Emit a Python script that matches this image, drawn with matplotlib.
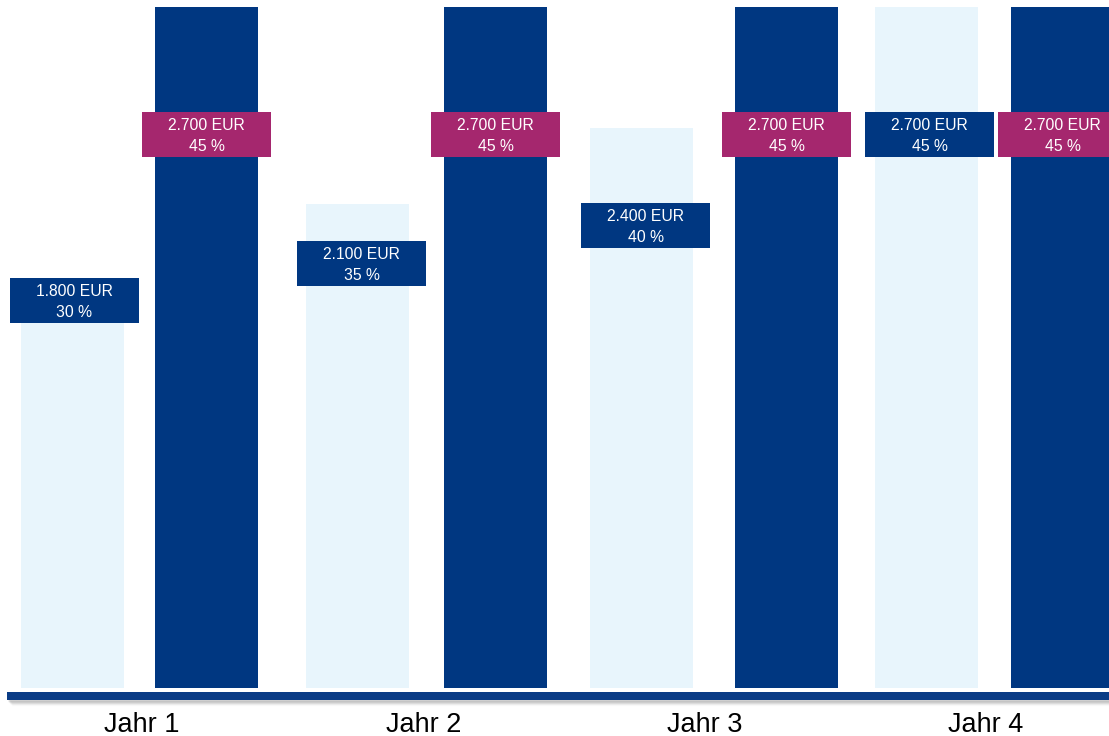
import matplotlib.pyplot as plt
from matplotlib.patches import Rectangle

# data
years = ['Jahr 1', 'Jahr 2', 'Jahr 3', 'Jahr 4']
light_heights = [1450, 1920, 2220, 2700]   # bar heights as drawn in the picture
dark_heights = [2700, 2700, 2700, 2700]
light_amounts = ['1.800 EUR', '2.100 EUR', '2.400 EUR', '2.700 EUR']
light_pcts = ['30 %', '35 %', '40 %', '45 %']
dark_amounts = ['2.700 EUR', '2.700 EUR', '2.700 EUR', '2.700 EUR']
dark_pcts = ['45 %', '45 %', '45 %', '45 %']

# layout (x in pixels, label centres in pixels from top)
light_x = [72.5, 357.5, 641.5, 926.5]
dark_x = [206.5, 495.5, 786.5, 1062.5]
light_box_x = [74, 361.5, 645.5, 929.5]
dark_box_x = [206.5, 495.5, 786.5, 1062.5]
light_label_px = [300.5, 263.5, 225.5, 134.5]
dark_label_px = [134.5, 134.5, 134.5, 134.5]
year_x = [141.5, 423.5, 704.5, 985.5]

LIGHT = '#E8F5FC'
DARK = '#003781'
MAGENTA = '#A5276E'

plt.rcParams['font.family'] = ['Liberation Sans', 'DejaVu Sans']

W, H = 1109, 736
base_px = 688
s = 2700 / 681.0  # data units per pixel

fig = plt.figure(figsize=(W / 100, H / 100), dpi=100)
ax = fig.add_axes([0, 0, 1, 1])
ax.set_xlim(0, W)
ax.set_ylim(-(H - base_px) * s, base_px * s)
ax.axis('off')

ax.bar(light_x, light_heights, width=103, color=LIGHT, zorder=1)
ax.bar(dark_x, dark_heights, width=103, color=DARK, zorder=1)


def py(px):
    return (base_px - px) * s


def label_box(x, ypx, color, amount, pct):
    bw, bh = 129, 45 * s
    yc = py(ypx)
    ax.add_patch(Rectangle((x - bw / 2, yc - bh / 2), bw, bh,
                           facecolor=color, edgecolor='none', zorder=3))
    # baselines of the two lines
    ax.text(x, py(ypx - 4.5), amount, ha='center', va='baseline',
            color='white', fontsize=11.3, zorder=4)
    ax.text(x, py(ypx + 16.5), pct, ha='center', va='baseline',
            color='white', fontsize=11.3, zorder=4)


for i in range(len(years)):
    label_box(light_box_x[i], light_label_px[i], DARK, light_amounts[i], light_pcts[i])
    label_box(dark_box_x[i], dark_label_px[i], MAGENTA, dark_amounts[i], dark_pcts[i])

# shadow under the axis line
for k, a in enumerate([0.10, 0.08, 0.06, 0.04, 0.02]):
    ax.plot([8 + k, W], [py(700 + k), py(700 + k)], color='black',
            alpha=a, lw=2.5, solid_capstyle='butt', zorder=1)
ax.plot([7, W], [py(695.5), py(695.5)], color='#0A3C86', lw=8 * 0.72,
        solid_capstyle='butt', zorder=2)

for i, yr in enumerate(years):
    ax.text(year_x[i], py(731.5), yr, ha='center', va='baseline',
            fontsize=19.5, color='black')

fig.savefig('out.png', dpi=100)
